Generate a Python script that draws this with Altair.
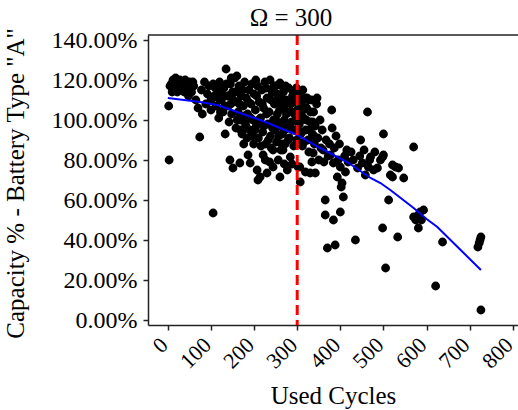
import altair as alt
import pandas as pd

# Battery capacity observations: (used cycles, capacity %)
early = [(2, 107), (3, 80), (8, 118), (12, 120), (15, 116), (20, 119), (25, 117), (28, 120),
         (32, 115), (35, 118), (40, 120), (45, 116), (48, 112), (50, 119), (55, 114),
         (60, 117), (65, 110), (70, 106), (74, 91.5), (78, 115), (80, 103), (85, 119),
         (88, 108), (92, 113), (95, 117), (100, 105), (105, 53.5), (100, 110),
         (5, 117), (10, 114), (18, 121), (22, 114), (30, 119), (38, 114), (42, 118),
         (52, 116), (58, 119)]
band_100 = [(105, 118), (108, 112), (112, 107), (115, 115), (118, 101), (120, 119), (124, 110),
            (128, 104), (130, 116), (133, 93), (135, 125.5), (138, 112), (140, 107), (142, 99),
            (144, 80), (145, 118), (148, 103), (150, 114), (151, 76), (147, 121), (160, 122),
            (110, 116), (117, 111), (122, 104), (126, 113), (132, 107), (136, 118), (141, 112),
            (146, 108)]
band_150 = [(155, 121), (158, 96), (160, 109), (163, 104), (165, 117), (167, 78.5), (168, 100),
            (170, 112), (172, 93), (175, 107), (178, 119), (180, 98), (182, 111), (185, 103),
            (186, 82.5), (188, 115), (190, 95), (191, 78.5), (193, 108), (195, 118), (197, 100),
            (199, 88), (176, 88), (184, 91), (152, 110), (157, 114), (161, 100), (166, 108),
            (169, 95), (174, 115), (177, 102), (183, 96), (187, 109), (192, 101), (196, 92)]
band_200 = [(200, 113), (203, 105), (205, 97), (207, 75), (208, 117), (210, 91), (209, 70),
            (212, 109), (214, 71.5), (215, 101), (218, 115), (220, 94), (221, 82.5), (222, 106),
            (225, 119), (227, 88), (230, 73.5), (230, 111), (232, 98), (235, 104), (237, 120),
            (238, 92), (240, 86), (242, 114), (244, 76.5), (244, 85), (245, 100), (247, 108),
            (249, 95), (216, 87), (226, 80), (236, 79), (204, 120), (228, 116),
            (202, 95), (206, 112), (211, 100), (219, 108), (223, 97), (229, 103), (233, 90),
            (239, 110), (243, 96), (246, 117)]
band_250 = [(250, 117), (252, 89), (254, 103), (256, 112), (258, 97), (260, 118.5), (260, 71.5),
            (262, 85), (264, 107), (266, 93), (267, 85), (268, 114), (270, 100), (272, 88),
            (274, 110), (276, 96), (277, 75), (278, 104), (280, 116), (282, 91), (284, 81.5),
            (285, 108), (287, 99), (289, 112), (291, 113.5), (292, 87), (294, 103), (295, 95),
            (297, 110), (299, 90), (256, 80), (270, 78), (288, 78), (264, 117), (255, 109),
            (251, 100), (253, 113), (257, 92), (259, 105), (261, 98), (263, 111), (265, 88),
            (269, 106), (271, 95), (273, 117), (275, 103), (279, 90), (281, 109), (283, 97),
            (286, 104), (290, 95), (293, 109), (296, 100), (298, 116)]
band_300 = [(302, 76.5), (306, 76.5), (307, 69), (300, 105), (303, 112), (305, 98), (308, 93),
            (310, 108), (312, 87), (315, 101), (318, 111), (319, 74), (320, 95), (322, 106),
            (325, 90), (327, 84), (330, 99), (330, 73.5), (333, 110), (335, 93), (337, 83.5),
            (338, 104), (340, 88), (342, 73.5), (342, 97), (345, 108), (346, 111), (348, 91),
            (350, 80), (313, 115), (326, 110), (334, 79), (301, 95), (304, 103), (309, 100),
            (311, 94), (314, 105), (316, 89), (321, 100), (323, 111), (328, 95), (331, 104),
            (336, 99), (339, 92)]
band_350 = [(353, 100), (355, 86), (358, 95), (360, 85), (362, 79), (365, 60), (365, 52.5),
            (367, 90), (370, 36), (372, 82), (375, 88), (377, 82.5), (380, 105), (381, 96),
            (384, 78.5), (384, 50), (386, 86), (388, 37.5), (390, 92), (393, 71.5), (395, 80),
            (398, 88), (400, 76.5), (400, 54), (402, 66.5), (404, 68.5), (407, 61.5), (410, 82),
            (412, 74), (415, 85), (418, 79)]
band_420 = [(425, 84), (430, 80), (435, 40), (440, 76), (445, 82), (447, 90), (451, 78.5),
            (455, 85), (458, 72.5), (463, 104), (465, 76.5), (468, 80), (470, 81.5), (477, 75),
            (480, 84)]
band_480 = [(486, 76), (493, 80), (498, 46), (498, 81.5), (500, 93), (500, 82.5), (505, 26),
            (512, 60), (516, 72.5), (521, 77.5), (521, 71.5), (528, 76.5), (533, 41.5), (535, 76),
            (547, 71)]
late = [(570, 86.5), (570, 51.5), (575, 50), (581, 52.5), (581, 46), (585, 54), (593, 55),
        (588, 50), (621, 17), (637, 39), (719, 36.5), (722, 38.5), (724, 40), (726, 41.5),
        (726, 5)]

# Fitted degradation curve
fit_cycles = [0, 75, 115, 220, 300, 353, 416, 470, 493, 516, 570, 600, 625, 679, 726]
fit_pct = [111, 109, 107.5, 99.5, 92.5, 86, 79, 71, 68.5, 65, 56, 50.5, 46.5, 35, 25]

threshold = 300
x_ticks = [0, 100, 200, 300, 400, 500, 600, 700, 800]
y_ticks = [0, 0.2, 0.4, 0.6, 0.8, 1.0, 1.2, 1.4]

obs = early + band_100 + band_150 + band_200 + band_250 + band_300 + band_350 + band_420 + band_480 + late
points_df = pd.DataFrame({"cycles": [c for c, _ in obs], "capacity": [v / 100 for _, v in obs]})
fit_df = pd.DataFrame({"cycles": fit_cycles, "capacity": [v / 100 for v in fit_pct]})

serif = "Liberation Serif"
x_scale = alt.Scale(domain=[-46, 812], nice=False, zero=False)
y_scale = alt.Scale(domain=[-0.025, 1.425], nice=False, zero=False)

x_enc = alt.X(
    "cycles:Q", scale=x_scale,
    axis=alt.Axis(values=x_ticks, labelAngle=-45, labelAlign="right", labelBaseline="middle",
                  tickSize=5, labelPadding=11, labelOffset=-4, labelFontSize=22, grid=False,
                  title="Used Cycles", titleY=78, titleBaseline="alphabetic"),
)
y_enc = alt.Y(
    "capacity:Q", scale=y_scale,
    axis=alt.Axis(values=y_ticks, format=".2%", tickSize=5, labelPadding=6, labelFontSize=24,
                  grid=False, title='Capacity % - Battery Type "A"', titleX=-120, titleY=148),
)

points = alt.Chart(points_df).mark_point(
    filled=True, shape="circle", size=78, color="black", opacity=1
).encode(x=x_enc, y=y_enc)

fit = alt.Chart(fit_df).mark_line(color="#0000ff", strokeWidth=2).encode(
    x="cycles:Q", y="capacity:Q"
)

cutoff = alt.Chart(pd.DataFrame({"cycles": [threshold]})).mark_rule(
    color="#ff0000", strokeWidth=3, strokeDash=[10, 5]
).encode(x="cycles:Q")

top_border = alt.Chart(pd.DataFrame({"capacity": [1.425]})).mark_rule(
    color="#222222", strokeWidth=1.5
).encode(y="capacity:Q")

chart = alt.layer(points, fit, cutoff, top_border).properties(
    width=370,
    height=290,
    title=alt.Title("Ω = 300", font=serif, fontSize=25, fontWeight="normal", color="black",
                    anchor="middle", frame="group", dx=-42, offset=-3),
    autosize=alt.AutoSizeParams(type="none"),
    padding={"left": 148, "top": 35, "right": 0, "bottom": 85},
).configure_view(stroke=None).configure_axis(
    domainColor="#222222", domainWidth=1.5, tickColor="#222222", tickWidth=1.5,
    labelFont=serif, labelColor="black",
    titleFont=serif, titleFontSize=25, titleFontWeight="normal", titleColor="black",
)

chart.save("out.html", embed_options={"renderer": "svg", "actions": False})
